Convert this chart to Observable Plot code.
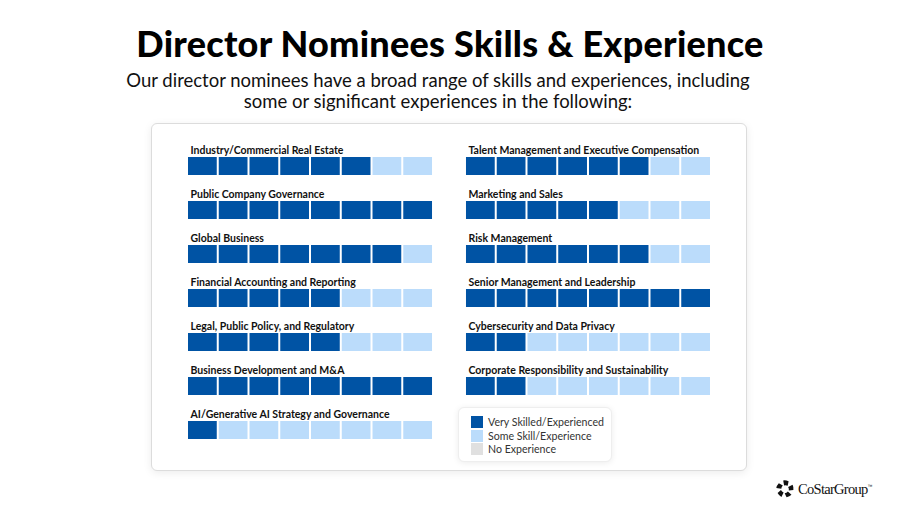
<!DOCTYPE html>
<html>
<head>
<meta charset="utf-8">
<script src="https://cdn.jsdelivr.net/npm/d3@7"></script>
<script src="https://cdn.jsdelivr.net/npm/@observablehq/plot@0.6"></script>
<style>
  html, body { margin: 0; padding: 0; background: #fff; }
  body { width: 900px; height: 506px; position: relative; overflow: hidden; font-family: Lato, "Open Sans", sans-serif; }
  #title { position: absolute; left: 0; width: 900px; top: 24px; text-align: center; font-size: 36px; line-height: 38px; font-weight: 900; color: #000; letter-spacing: 0.25px; }
  #subtitle { position: absolute; left: -12px; width: 900px; top: 70px; text-align: center; font-size: 18.5px; line-height: 20.5px; font-weight: 400; color: #111; }
  #panel { position: absolute; left: 151px; top: 123px; width: 594px; height: 346px; border: 1px solid #dcdcdc; border-radius: 6px; box-shadow: 0 2px 8px rgba(0,0,0,0.08); background: #fff; }
  #chart { position: absolute; left: 151px; top: 123px; }
  #legend { position: absolute; left: 458px; top: 407px; width: 152px; height: 53px; background: #fff; border: 1px solid #eeeeee; border-radius: 6px; box-shadow: 0 1px 6px rgba(0,0,0,0.08); }
  .li { position: absolute; left: 12px; font-size: 10.6px; color: #333; line-height: 12px; }
  .sw { display: inline-block; width: 12px; height: 12px; vertical-align: top; margin-right: 5px; }
  #logo { position: absolute; left: 776px; top: 478px; height: 22px; display: flex; align-items: center; }
  #logo span { font-family: "Liberation Serif", serif; font-size: 14.5px; color: #111; letter-spacing: -0.7px; word-spacing: -3px; margin-left: 4px; }
  #logo sup { font-size: 5px; font-family: "Liberation Sans"; letter-spacing: 0; }
</style>
</head>
<body>
<div id="title">Director Nominees Skills &amp; Experience</div>
<div id="subtitle">Our director nominees have a broad range of skills and experiences, including<br>some or significant experiences in the following:</div>
<div id="panel"></div>
<div id="chart"></div>
<div id="legend"></div>
<div id="logo">
  <svg width="18" height="18" viewBox="-10 -10 20 20">
    <g fill="#111">
      <path d="M-2,-9.5 Q1,-10 4,-8.5 L3,-3.5 Q1,-4.5 -1,-4 Z" transform="rotate(0)"/>
      <path d="M-2,-9.5 Q1,-10 4,-8.5 L3,-3.5 Q1,-4.5 -1,-4 Z" transform="rotate(72)"/>
      <path d="M-2,-9.5 Q1,-10 4,-8.5 L3,-3.5 Q1,-4.5 -1,-4 Z" transform="rotate(144)"/>
      <path d="M-2,-9.5 Q1,-10 4,-8.5 L3,-3.5 Q1,-4.5 -1,-4 Z" transform="rotate(216)"/>
      <path d="M-2,-9.5 Q1,-10 4,-8.5 L3,-3.5 Q1,-4.5 -1,-4 Z" transform="rotate(288)"/>
    </g>
  </svg>
  <span>CoStar Group<sup>™</sup></span>
</div>
<script>
// ---- data ----
const nominees = 8;
const leftSkills = [
  "Industry/Commercial Real Estate",
  "Public Company Governance",
  "Global Business",
  "Financial Accounting and Reporting",
  "Legal, Public Policy, and Regulatory",
  "Business Development and M&A",
  "AI/Generative AI Strategy and Governance"
];
const leftVery = [6, 8, 7, 5, 5, 8, 1];
const leftSome = [2, 0, 1, 3, 3, 0, 7];
const rightSkills = [
  "Talent Management and Executive Compensation",
  "Marketing and Sales",
  "Risk Management",
  "Senior Management and Leadership",
  "Cybersecurity and Data Privacy",
  "Corporate Responsibility and Sustainability"
];
const rightVery = [6, 5, 6, 8, 2, 2];
const rightSome = [2, 3, 2, 0, 6, 6];
const levels = ["Very Skilled/Experienced", "Some Skill/Experience", "No Experience"];
const levelColors = ["#0053a4", "#bbdcfb", "#e0e0e0"];

// ---- build table ----
const cells = [];
const labels = [];
function addColumn(col, skills, very, some) {
  skills.forEach((s, r) => {
    labels.push({col, row: r, skill: s});
    for (let i = 1; i <= nominees; i++) {
      const level = i <= very[r] ? levels[0] : (i <= very[r] + some[r] ? levels[1] : levels[2]);
      cells.push({col, row: r, idx: i, level});
    }
  });
}
addColumn("left", leftSkills, leftVery, leftSome);
addColumn("right", rightSkills, rightVery, rightSome);

const chart = Plot.plot({
  width: 596,
  height: 348,
  marginLeft: 36,
  marginRight: 36,
  marginTop: 8,
  marginBottom: 32,
  style: {fontFamily: "Lato, sans-serif", background: "transparent"},
  fx: {domain: ["left", "right"], paddingInner: 0.115, paddingOuter: 0, round: false, axis: null},
  x: {domain: d3.range(1, nominees + 1), padding: 0, round: false, axis: null},
  y: {domain: d3.range(0, 7), padding: 0, round: false, axis: null},
  color: {domain: levels, range: levelColors},
  marks: [
    Plot.cell(cells, {fx: "col", x: "idx", y: "row", fill: "level", insetTop: 26, insetLeft: 1, insetRight: 1}),
    Plot.text(labels, {fx: "col", y: "row", text: "skill", frameAnchor: "left", textAnchor: "start", dx: 3, dy: -3, fontSize: 10.5, fontWeight: 700, fill: "#111"})
  ]
});
document.getElementById("chart").appendChild(chart);

// legend
const lg = document.getElementById("legend");
levels.forEach((l, i) => {
  const d = document.createElement("div");
  d.className = "li";
  d.style.top = (8 + i * 13.5) + "px";
  d.innerHTML = `<span class="sw" style="background:${levelColors[i]}"></span>${l}`;
  lg.appendChild(d);
});
</script>
</body>
</html>
